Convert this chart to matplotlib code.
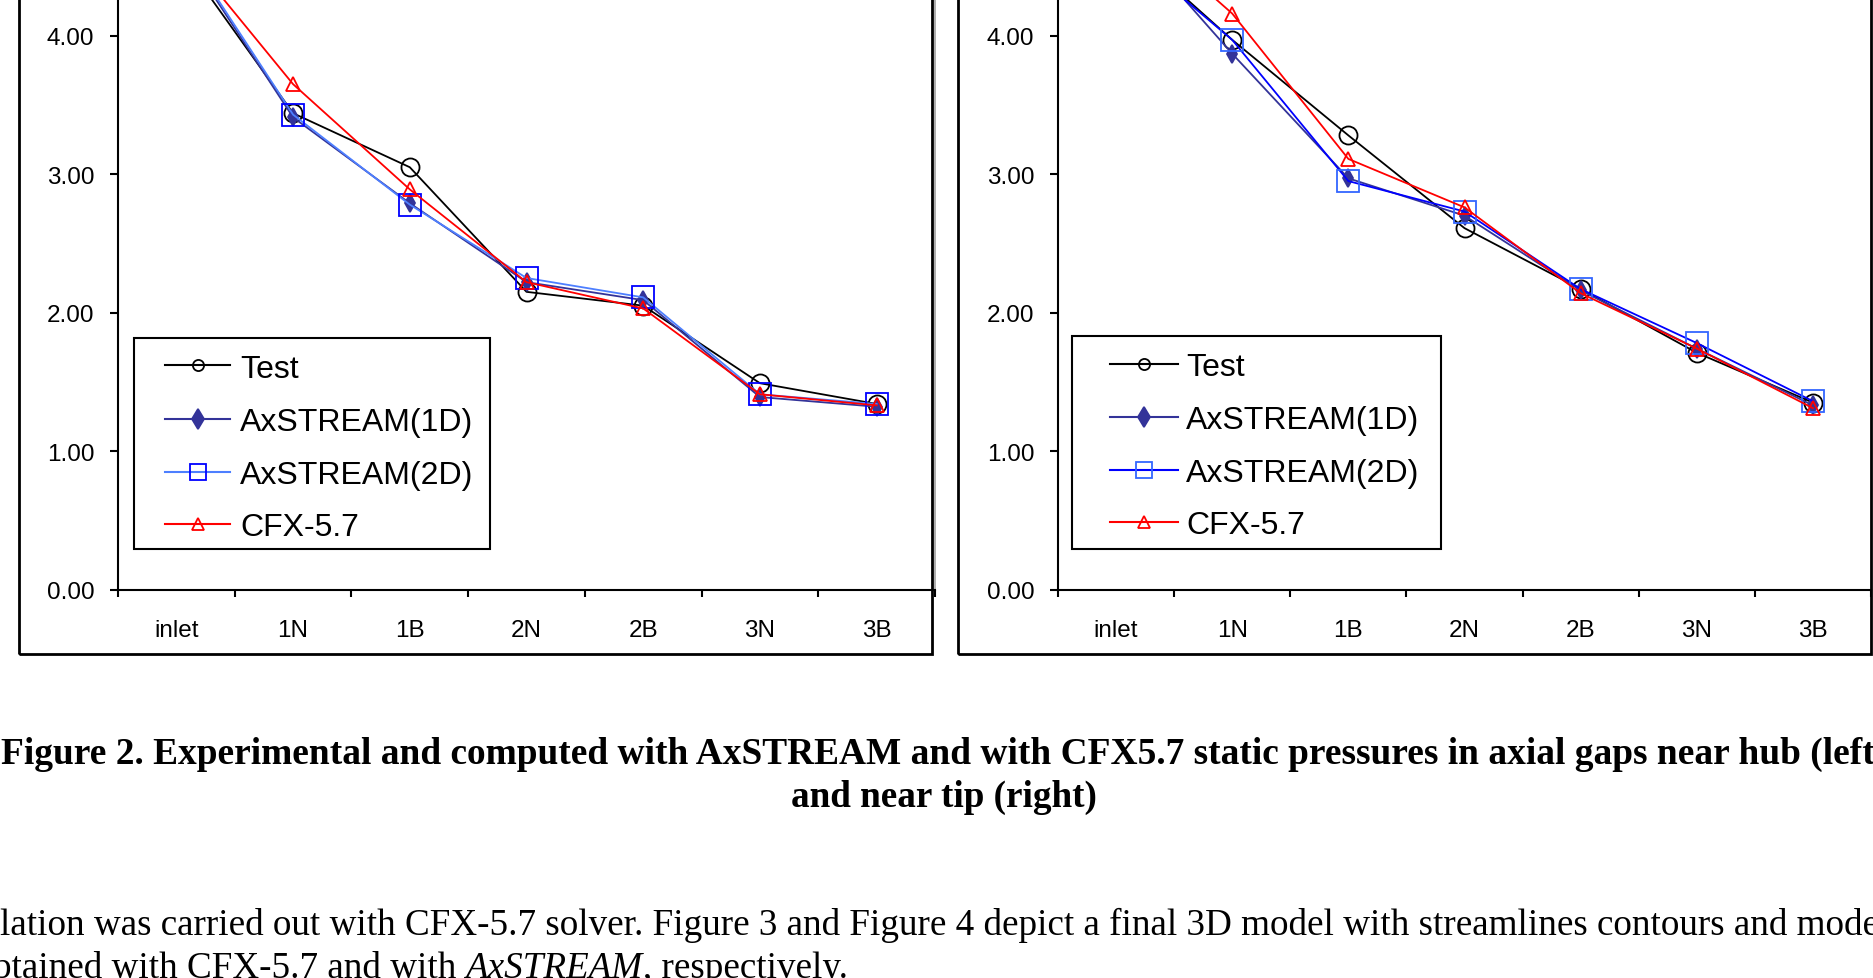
import numpy as np
import matplotlib
matplotlib.use("Agg")
import matplotlib.pyplot as plt
from matplotlib.patches import Rectangle
from matplotlib.lines import Line2D
from matplotlib.ticker import FormatStrFormatter

plt.rcParams['font.family'] = ['Liberation Sans', 'DejaVu Sans']

W, H = 1873, 979   # output size in pixels

stations = ["inlet", "1N", "1B", "2N", "2B", "3N", "3B"]
labels = ["Test", "AxSTREAM(1D)", "AxSTREAM(2D)", "CFX-5.7"]
y_ticks = [0.0, 1.0, 2.0, 3.0, 4.0]

# static pressure near hub (left chart)
test_hub = [4.62, 3.44, 3.05, 2.15, 2.05, 1.49, 1.34]
ax1d_hub = [4.70, 3.41, 2.79, 2.22, 2.09, 1.39, 1.32]
ax2d_hub = [4.72, 3.43, 2.78, 2.25, 2.11, 1.41, 1.34]
cfx_hub  = [4.68, 3.65, 2.89, 2.22, 2.03, 1.41, 1.33]

# static pressure near tip (right chart)
test_tip = [4.72, 3.97, 3.28, 2.61, 2.17, 1.71, 1.35]
ax1d_tip = [4.82, 3.87, 2.97, 2.70, 2.16, 1.74, 1.33]
ax2d_tip = [4.68, 3.97, 2.95, 2.73, 2.17, 1.78, 1.36]
cfx_tip  = [4.90, 4.16, 3.11, 2.76, 2.14, 1.74, 1.31]

caption1 = ("Figure 2. Experimental and computed with AxSTREAM and with CFX5.7 "
            "static pressures in axial gaps near hub (left)")
caption2 = "and near tip (right)"
body1 = ("lation was carried out with CFX-5.7 solver. Figure 3 and Figure 4 depict "
         "a final 3D model with streamlines contours and model")


def fx(x):
    return x / W


def fy(y):
    return 1 - y / H


def series_styles(line2d, mark2d):
    return [
        dict(color="black", marker="o", ms=13, mfc="none", mec="black"),
        dict(color="#333399", marker="d", ms=9, mfc="#333399", mec="#333399"),
        dict(color=line2d, marker="s", ms=16.5, mfc="none", mec=mark2d),
        dict(color="#FF0000", marker="^", ms=10, mfc="none", mec="#FF0000"),
    ]


def legend_ms(st):
    return {"o": 8, "d": 10, "s": 12, "^": 9}[st["marker"]]


fig = plt.figure(figsize=(W / 100, H / 100), dpi=100)

unit = 138.45  # px per 1.00
panels = [
    (118, 817, [test_hub, ax1d_hub, ax2d_hub, cfx_hub], series_styles("#4D7FFF", "#0000FF"),
     (19, 932), (134, 339, 490, 550, [366, 419.5, 472.5, 524.5], 165, 230, 240)),
    (1058, 813, [test_tip, ax1d_tip, ax2d_tip, cfx_tip], series_styles("#0000FF", "#3366FF"),
     (958, 1871), (1072, 337, 1441, 550, [364.5, 417.5, 470.5, 522.5], 1110, 1178, 1186)),
]

x = np.arange(len(stations))
for i, (left, width, data, styles, box, leg) in enumerate(panels):
    ax = fig.add_axes([fx(left), fy(590.5), width / W, 5 * unit / H])
    ax.set_facecolor("none")
    for vals, st, lab in zip(data, styles, labels):
        ax.plot(x, vals, lw=1.3, mew=1.3, label=lab, clip_on=False, **st)

    ax.set_xlim(-0.5, 6.5)
    ax.set_ylim(0, 5)
    ax.set_xticks(x)
    ax.set_xticklabels(stations)
    ax.set_xticks(np.arange(-0.5, 7), minor=True)
    ax.tick_params(axis="x", which="major", length=0, pad=21, labelsize=17.5)
    ax.tick_params(axis="x", which="minor", length=5, width=1.5, direction="out")
    ax.set_yticks(y_ticks)
    ax.yaxis.set_major_formatter(FormatStrFormatter("%.2f"))
    ax.tick_params(axis="y", length=6, width=1.5, pad=11, labelsize=17.5)

    ax.spines["top"].set_visible(False)
    for s in ["left", "bottom"]:
        ax.spines[s].set_linewidth(1.5)
        ax.spines[s].set_color("black")
    if i == 0:
        ax.spines["right"].set_color("#A0A0A0")
        ax.spines["right"].set_linewidth(1.2)
    else:
        ax.spines["right"].set_visible(False)

    # chart frame (top is outside the picture)
    fig.add_artist(Rectangle((fx(box[0]), fy(655)), (box[1] - box[0]) / W, 1.0,
                             transform=fig.transFigure, fill=False, ec="black", lw=2))

    # legend box
    lx0, ly0, lx1, ly1, rows, hx0, hx1, tx = leg
    fig.add_artist(Rectangle((fx(lx0), fy(ly1)), (lx1 - lx0) / W, (ly1 - ly0) / H,
                             transform=fig.transFigure, fc="white", ec="black", lw=1.5))
    for ry, st, lab in zip(rows, styles, labels):
        fig.add_artist(Line2D([fx(hx0), fx(hx1)], [fy(ry), fy(ry)],
                              transform=fig.transFigure, color=st["color"], lw=1.5))
        fig.add_artist(Line2D([fx((hx0 + hx1) / 2)], [fy(ry)], transform=fig.transFigure,
                              linestyle="none", marker=st["marker"], ms=legend_ms(st),
                              mfc=st["mfc"], mec=st["mec"], mew=1.3))
        fig.text(fx(tx), fy(ry + 11.5), lab, fontsize=23, va="baseline", ha="left")

# caption and body text of the page
overlay = fig.add_axes([0, 0, 1, 1])
overlay.axis("off")
serif = ["Liberation Serif", "DejaVu Serif"]
overlay.text(fx(944), fy(764), caption1, ha="center", va="baseline", fontsize=26.9,
             family=serif, weight="bold")
overlay.text(fx(944), fy(807), caption2, ha="center", va="baseline", fontsize=26.7,
             family=serif, weight="bold")
overlay.text(fx(0), fy(935), body1, ha="left", va="baseline", fontsize=26.7, family=serif)
t1 = overlay.text(fx(-7), fy(978), "btained with CFX-5.7 and with", ha="left",
                  va="baseline", fontsize=26.7, family=serif)
t2 = overlay.annotate("AxSTREAM", xy=(1, 0), xycoords=t1, xytext=(6.5, 0),
                      textcoords="offset points", va="bottom", ha="left",
                      fontsize=26.7, family=serif, style="italic")
overlay.annotate(", respectively.", xy=(1, 0), xycoords=t2, va="bottom", ha="left",
                 fontsize=26.7, family=serif)

fig.savefig("out.png", dpi=100)
